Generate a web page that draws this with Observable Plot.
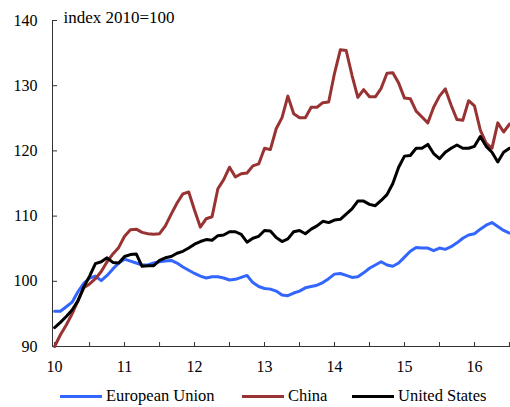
<!DOCTYPE html>
<html><head><meta charset="utf-8">
<script src="https://cdn.jsdelivr.net/npm/d3@7"></script>
<script src="https://cdn.jsdelivr.net/npm/@observablehq/plot@0.6"></script>
<style>
body{margin:0;background:#fff;font-family:'Liberation Serif','Times New Roman',serif;}
#legend{position:relative;height:20px;margin-top:11px;font-size:16.5px;color:#000;font-family:'Liberation Serif','Times New Roman',serif;}
.item{position:absolute;top:0;height:20px;display:flex;align-items:center;white-space:nowrap}
.sw{width:42px;height:3px;margin-right:4px}
svg text{font-family:'Liberation Serif','Times New Roman',serif !important;}
</style></head><body>
<div id="chart"></div>
<div id="legend"></div>
<script>
// Monthly data from January 2010 (x = years since 2000)
const startYear = 10;
const seriesNames = ["European Union", "China", "United States"];
const seriesColors = ["#3366ff", "#993333", "#000000"];
const eu = [95.4,95.4,96.1,96.8,98.4,99.7,100.5,100.8,100.1,100.9,101.9,102.8,103.4,103.1,102.8,102.5,102.5,102.8,103,103.1,
  103.2,102.8,102.2,101.7,101.2,100.8,100.5,100.7,100.7,100.5,100.2,100.3,100.6,100.9,99.8,99.2,98.9,98.8,98.5,97.9,
  97.8,98.2,98.5,99,99.2,99.4,99.8,100.4,101.1,101.2,100.9,100.6,100.7,101.3,102,102.5,103,102.5,102.3,102.8,
  103.7,104.6,105.2,105.1,105.1,104.7,105.1,104.9,105.3,105.9,106.6,107.1,107.3,108,108.6,109,108.4,107.8,107.4];
const china = [90,91.8,93.3,95,97,99,99.6,100.4,101.5,103,104.2,105.2,106.9,107.9,108,107.5,107.3,107.2,107.3,108.5,
  110.3,112,113.4,113.7,110.9,108.3,109.6,109.9,114.2,115.6,117.5,116,116.5,116.6,117.7,118,120.4,120.2,123.4,125.1,
  128.4,125.7,125.1,125.1,126.7,126.7,127.4,127.5,131.9,135.5,135.4,131.6,128.2,129.4,128.3,128.3,129.6,131.9,132,130.4,
  128.1,128,126.1,125.2,124.3,126.7,128.4,129.5,127,124.8,124.7,127.7,126.9,123.2,121.2,120.4,124.3,122.9,124.1];
const us = [92.9,93.7,94.6,95.6,97,99.1,100.8,102.7,103,103.6,102.9,102.8,103.8,104.1,104.2,102.3,102.4,102.4,103.2,103.6,
  103.8,104.3,104.6,105.1,105.7,106.1,106.4,106.3,107,107.1,107.6,107.6,107.2,106,106.6,106.9,107.8,107.7,106.7,106.1,
  106.5,107.6,107.8,107.3,108,108.5,109.2,109,109.4,109.5,110.3,111.1,112.3,112.3,111.8,111.6,112.4,113.3,115,117.5,
  119.2,119.3,120.4,120.4,121,119.6,118.8,119.8,120.4,120.9,120.4,120.4,120.7,122.2,120.7,119.8,118.3,119.8,120.4];
const xLabelTicks = [10, 11, 12, 13, 14, 15, 16];
const xMinorTicks = [10, 10.5, 11, 11.5, 12, 12.5, 13, 13.5, 14, 14.5, 15, 15.5, 16, 16.5];
const yTicks = [90, 100, 110, 120, 130, 140];
const yDomain = [90, 140];
const xDomain = [9.97, 16.515];
const unitLabel = "index 2010=100";

const values = [eu, china, us];
const rows = values.flatMap((arr, s) => arr.map((v, i) => ({series: seriesNames[s], t: startYear + i / 12, v})));
const serif = "'Liberation Serif', 'Times New Roman', serif";

const chart = Plot.plot({
  width: 510, height: 375,
  marginLeft: 52, marginRight: 0, marginTop: 20, marginBottom: 29,
  style: {fontFamily: serif, fontSize: "16px", color: "#000", background: "#fff", overflow: "visible"},
  x: {domain: xDomain, label: null},
  y: {domain: yDomain, label: null},
  color: {domain: seriesNames, range: seriesColors},
  marks: [
    Plot.axisX(xMinorTicks, {tickSize: -4, text: null, stroke: "#333", label: null}),
    Plot.axisX(xLabelTicks, {tickSize: 0, tickPadding: 14, tickFormat: d => String(d), fill: "#000", label: null, fontFamily: serif, fontVariant: "normal"}),
    Plot.axisY(yTicks, {tickSize: -5, text: null, stroke: "#333", label: null}),
    Plot.axisY(yTicks, {tickSize: 0, tickPadding: 15, tickFormat: d => String(d), fill: "#000", label: null, fontFamily: serif, fontVariant: "normal"}),
    Plot.ruleY([yDomain[0]], {stroke: "#333"}),
    Plot.ruleX([xDomain[0]], {stroke: "#333"}),
    Plot.line(rows, {x: "t", y: "v", z: "series", stroke: "series", strokeWidth: 3, strokeLinejoin: "round"}),
    Plot.text([unitLabel], {frameAnchor: "top-left", textAnchor: "start", lineAnchor: "middle", dx: 11, dy: -3, fill: "#000", fontSize: 17, fontFamily: serif})
  ]
});
document.getElementById("chart").appendChild(chart);

const legend = document.getElementById("legend");
const legendLeft = [60, 242, 352];
seriesNames.forEach((name, i) => {
  const item = document.createElement("div");
  item.className = "item";
  item.style.left = legendLeft[i] + "px";
  const sw = document.createElement("span");
  sw.className = "sw";
  sw.style.background = seriesColors[i];
  const label = document.createElement("span");
  label.textContent = name;
  item.appendChild(sw); item.appendChild(label);
  legend.appendChild(item);
});
</script>
</body></html>
